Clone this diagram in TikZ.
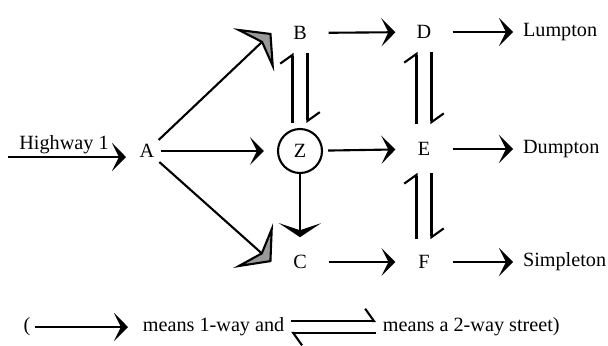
\documentclass[tikz,border=0pt]{standalone}
\usepackage{fontspec}
\setmainfont{Liberation Serif}
\usetikzlibrary{arrows.meta}

\begin{document}
\begin{tikzpicture}[x=0.02cm, y=-0.02cm, line width=1.2pt,
		every node/.style={font=\fontsize{11.5}{13}\selectfont},
		junction/.style={inner sep=0pt, minimum width=1.1cm, minimum height=0.75cm},
		town/.style={anchor=west, inner xsep=0.18cm, inner ysep=0pt},
		oneway/.style={-{Stealth[length=8pt, width=16pt, inset=4pt]}},
		bigway/.style={-{Stealth[length=14pt, width=34pt, inset=6pt, fill=gray!80]}},
		twoway/.style={-{Straight Barb[harpoon, length=5pt, width=14pt]}}]
	\useasboundingbox (0,0) rectangle (608,345);

	% junctions
	\node[inner sep=0pt, minimum width=0.5cm, minimum height=0.4cm] (A) at (147,151) {A};
	\node[junction] (B) at (300,33) {B};
	\node[draw, circle, minimum size=0.88cm, inner sep=0pt] (Z) at (300,151) {Z};
	\node[junction] (C) at (300,262) {C};
	\node[junction] (D) at (424,32) {D};
	\node[junction] (E) at (424,149) {E};
	\node[junction] (F) at (424,262) {F};

	% towns
	\node[town] (lump) at (513,32) {Lumpton};
	\node[town] (dump) at (513,149) {Dumpton};
	\node[town] (simp) at (513,262) {Simpleton};

	% highway in
	\node (hwy) at (64,145) {Highway 1};
	\coordinate (hwyL) at (8,157);
	\coordinate (hwyR) at (126,157);
	\draw[oneway] (hwyL) -- (hwyR);

	% one-way streets
	\draw[bigway] (A) -- (B.west);
	\draw[oneway, shorten >=0.26cm] (A) -- (Z);
	\draw[bigway] (A) -- (C.west);
	\draw[oneway] (B) -- (D);
	\draw[oneway, shorten <=0.1cm] (Z) -- (E);
	\draw[oneway] (C) -- (F);
	\draw[-{Stealth[length=8pt, width=24pt, inset=4pt]}, shorten >=0.1cm] (Z) -- (C);
	\draw[oneway] (D) -- (lump);
	\draw[oneway] (E) -- (dump);
	\draw[oneway] (F) -- (simp);

	% two-way streets
	\draw[twoway, shorten <=0.1cm] ([xshift=-0.15cm]Z.north) -- ([xshift=-0.15cm]B.south);
	\draw[twoway, shorten >=0.1cm] ([xshift=0.15cm]B.south) -- ([xshift=0.15cm]Z.north);
	\draw[twoway, shorten <=0.1cm] ([xshift=-0.15cm]E.north) -- ([xshift=-0.15cm]D.south);
	\draw[twoway, shorten >=0.1cm] ([xshift=0.15cm]D.south) -- ([xshift=0.15cm]E.north);
	\draw[twoway, shorten <=0.06cm, shorten >=0.08cm] ([xshift=-0.15cm]F.north) -- ([xshift=-0.15cm]E.south);
	\draw[twoway, shorten <=0.08cm, shorten >=0.06cm] ([xshift=0.15cm]E.south) -- ([xshift=0.15cm]F.north);

	% legend
	\node[inner sep=0pt] (paren) at (27,327) {(};
	\node[anchor=west] (one) at (136,327) {means 1-way and};
	\node[anchor=west] (two) at (376,327) {means a 2-way street)};
	\draw[oneway, shorten <=0.08cm, shorten >=0.16cm] (paren) -- (one);
	\draw[twoway] ([yshift=0.12cm]one.east) -- ([yshift=0.12cm]two.west);
	\draw[twoway] ([yshift=-0.12cm]two.west) -- ([yshift=-0.12cm]one.east);
\end{tikzpicture}
\end{document}
